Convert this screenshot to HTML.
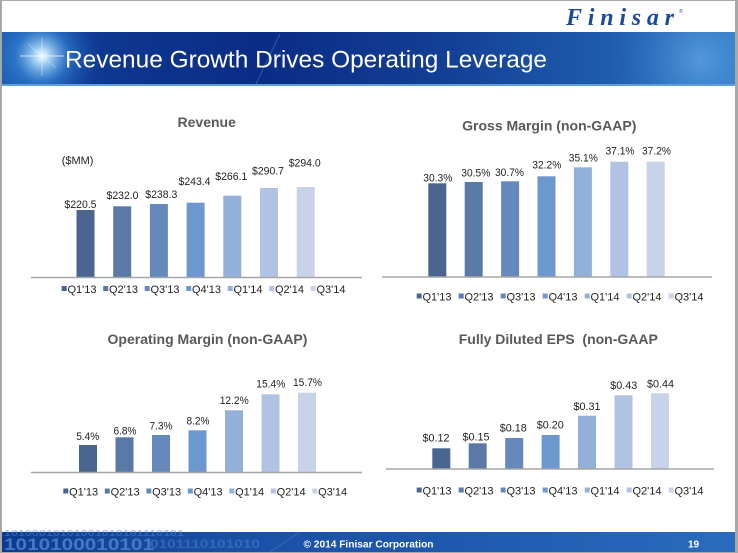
<!DOCTYPE html>
<html>
<head>
<meta charset="utf-8">
<style>
html,body{margin:0;padding:0;background:#fff;}
svg{display:block;}
text{font-family:"Liberation Sans",Arial,sans-serif;}
</style>
</head>
<body>
<svg width="738" height="553" viewBox="0 0 738 553" xmlns="http://www.w3.org/2000/svg">
<defs>
  <linearGradient id="ban" x1="0" y1="0" x2="1" y2="0">
    <stop offset="0" stop-color="#1d5cb0"/>
    <stop offset="0.1" stop-color="#0f3a93"/>
    <stop offset="0.35" stop-color="#0a2c84"/>
    <stop offset="0.6" stop-color="#123f94"/>
    <stop offset="0.85" stop-color="#215fb0"/>
    <stop offset="1" stop-color="#2f78c6"/>
  </linearGradient>
  <radialGradient id="flare" cx="42" cy="56" r="60" gradientUnits="userSpaceOnUse">
    <stop offset="0" stop-color="#ffffff" stop-opacity="1"/>
    <stop offset="0.12" stop-color="#bfe6ff" stop-opacity="0.9"/>
    <stop offset="0.45" stop-color="#3a8ee0" stop-opacity="0.55"/>
    <stop offset="1" stop-color="#1a5cb0" stop-opacity="0"/>
  </radialGradient>
  <radialGradient id="rglow" cx="700" cy="60" r="90" gradientUnits="userSpaceOnUse">
    <stop offset="0" stop-color="#6fb4ec" stop-opacity="0.6"/>
    <stop offset="1" stop-color="#2f78c6" stop-opacity="0"/>
  </radialGradient>
  <linearGradient id="foot" x1="0" y1="0" x2="1" y2="0">
    <stop offset="0" stop-color="#0d3a8e"/>
    <stop offset="0.3" stop-color="#1a4fa4"/>
    <stop offset="0.6" stop-color="#1e58ad"/>
    <stop offset="1" stop-color="#2a6cbc"/>
  </linearGradient>
</defs>

<!-- frame -->
<rect x="0" y="0" width="738" height="553" fill="#ffffff"/>
<rect x="0" y="0" width="738" height="1" fill="#a8a8a8"/>
<rect x="0" y="0" width="2" height="553" fill="#a8a8a8"/>
<rect x="735" y="0" width="3" height="553" fill="#a8a8a8"/>
<rect x="0" y="552" width="738" height="1" fill="#a8a8a8"/>

<!-- logo -->
<text x="566" y="25" font-family="Liberation Serif, serif" font-style="italic" font-weight="bold" font-size="24" fill="#1a4b9b" textLength="108" lengthAdjust="spacing" style="font-family:'Liberation Serif',serif">Finisar</text>
<text x="679" y="13" font-size="5" fill="#1a4b9b">®</text>

<!-- banner -->
<rect x="2" y="32" width="733" height="54" fill="url(#ban)"/>
<rect x="2" y="32" width="733" height="54" fill="url(#rglow)"/>
<rect x="2" y="32" width="140" height="54" fill="url(#flare)"/>
<line x1="20" y1="56" x2="64" y2="56" stroke="#e8f6ff" stroke-width="1" opacity="0.8"/>
<line x1="42" y1="38" x2="42" y2="76" stroke="#e8f6ff" stroke-width="0.8" opacity="0.6"/>
<line x1="28" y1="44" x2="56" y2="68" stroke="#e8f6ff" stroke-width="0.6" opacity="0.5"/>
<line x1="255" y1="86" x2="280" y2="34" stroke="#4f86d0" stroke-width="1" opacity="0.5"/>
<rect x="2" y="84" width="733" height="2" fill="#5d9ee0"/>
<text x="65" y="67.5" font-size="24" fill="#ffffff" textLength="482" lengthAdjust="spacingAndGlyphs">Revenue Growth Drives Operating Leverage</text>

<!-- ========== Revenue ========== -->
<text x="206.7" y="127" font-size="14" font-weight="bold" fill="#595959" text-anchor="middle">Revenue</text>
<text x="61.7" y="164" font-size="11" fill="#222">($MM)</text>
<g>
<rect x="76.5" y="210" width="18" height="67.5" fill="#4a6690"/>
<rect x="113.2" y="206.3" width="18" height="71.2" fill="#5a79a6"/>
<rect x="149.9" y="204" width="18" height="73.5" fill="#6588bd"/>
<rect x="186.6" y="202.7" width="18" height="74.8" fill="#6c97cf"/>
<rect x="223.3" y="195.7" width="18" height="81.8" fill="#93b0db"/>
<rect x="260" y="188" width="18" height="89.5" fill="#b1c3e2"/>
<rect x="296.7" y="187" width="18" height="90.5" fill="#c8d3ea"/>
</g>
<line x1="31" y1="277.5" x2="362" y2="277.5" stroke="#a6a6a6" stroke-width="1.5"/>
<g font-size="11" fill="#222" text-anchor="middle">
<text x="80.5" y="208" textLength="32" lengthAdjust="spacingAndGlyphs">$220.5</text>
<text x="122.5" y="199" textLength="32" lengthAdjust="spacingAndGlyphs">$232.0</text>
<text x="161.3" y="198" textLength="32" lengthAdjust="spacingAndGlyphs">$238.3</text>
<text x="194.5" y="185" textLength="32" lengthAdjust="spacingAndGlyphs">$243.4</text>
<text x="231.3" y="180" textLength="32" lengthAdjust="spacingAndGlyphs">$266.1</text>
<text x="268" y="174.3" textLength="32" lengthAdjust="spacingAndGlyphs">$290.7</text>
<text x="304.7" y="166.7" textLength="32" lengthAdjust="spacingAndGlyphs">$294.0</text>
</g>
<g font-size="11" fill="#222">
<rect x="61.7" y="286" width="5" height="5" fill="#4a6690"/><text x="67.5" y="293">Q1'13</text>
<rect x="103.2" y="286" width="5" height="5" fill="#5a79a6"/><text x="109" y="293">Q2'13</text>
<rect x="144.7" y="286" width="5" height="5" fill="#6588bd"/><text x="150.5" y="293">Q3'13</text>
<rect x="186.2" y="286" width="5" height="5" fill="#6c97cf"/><text x="192" y="293">Q4'13</text>
<rect x="227.7" y="286" width="5" height="5" fill="#93b0db"/><text x="233.5" y="293">Q1'14</text>
<rect x="269.2" y="286" width="5" height="5" fill="#b1c3e2"/><text x="275" y="293">Q2'14</text>
<rect x="310.7" y="286" width="5" height="5" fill="#c8d3ea"/><text x="316.5" y="293">Q3'14</text>
</g>

<!-- ========== Gross Margin ========== -->
<text x="549.3" y="130.5" font-size="14" font-weight="bold" fill="#595959" text-anchor="middle">Gross Margin (non-GAAP)</text>
<g>
<rect x="428.3" y="183.3" width="18" height="93.7" fill="#4a6690"/>
<rect x="464.7" y="182" width="18" height="95" fill="#5a79a6"/>
<rect x="501.1" y="181.3" width="18" height="95.7" fill="#6588bd"/>
<rect x="537.5" y="176.3" width="18" height="100.7" fill="#6c97cf"/>
<rect x="573.9" y="167.3" width="18" height="109.7" fill="#93b0db"/>
<rect x="610.3" y="161.7" width="18" height="115.3" fill="#b1c3e2"/>
<rect x="646.7" y="161.7" width="18" height="115.3" fill="#c8d3ea"/>
</g>
<line x1="382" y1="277" x2="712" y2="277" stroke="#a6a6a6" stroke-width="1.5"/>
<g font-size="11" fill="#222" text-anchor="middle">
<text x="437.8" y="181.7" textLength="29" lengthAdjust="spacingAndGlyphs">30.3%</text>
<text x="475.8" y="176.7" textLength="29" lengthAdjust="spacingAndGlyphs">30.5%</text>
<text x="509.5" y="176" textLength="29" lengthAdjust="spacingAndGlyphs">30.7%</text>
<text x="546.8" y="168.3" textLength="29" lengthAdjust="spacingAndGlyphs">32.2%</text>
<text x="583.3" y="161.7" textLength="29" lengthAdjust="spacingAndGlyphs">35.1%</text>
<text x="620" y="154.3" textLength="29" lengthAdjust="spacingAndGlyphs">37.1%</text>
<text x="656.5" y="154.3" textLength="29" lengthAdjust="spacingAndGlyphs">37.2%</text>
</g>
<g font-size="11" fill="#222">
<rect x="416.7" y="293.5" width="5" height="5" fill="#4a6690"/><text x="422.5" y="300.5">Q1'13</text>
<rect x="458.7" y="293.5" width="5" height="5" fill="#5a79a6"/><text x="464.5" y="300.5">Q2'13</text>
<rect x="500.7" y="293.5" width="5" height="5" fill="#6588bd"/><text x="506.5" y="300.5">Q3'13</text>
<rect x="542.7" y="293.5" width="5" height="5" fill="#6c97cf"/><text x="548.5" y="300.5">Q4'13</text>
<rect x="584.7" y="293.5" width="5" height="5" fill="#93b0db"/><text x="590.5" y="300.5">Q1'14</text>
<rect x="626.7" y="293.5" width="5" height="5" fill="#b1c3e2"/><text x="632.5" y="300.5">Q2'14</text>
<rect x="668.7" y="293.5" width="5" height="5" fill="#c8d3ea"/><text x="674.5" y="300.5">Q3'14</text>
</g>

<!-- ========== Operating Margin ========== -->
<text x="207.5" y="344" font-size="14" font-weight="bold" fill="#595959" text-anchor="middle">Operating Margin (non-GAAP)</text>
<g>
<rect x="79" y="445" width="18" height="27.5" fill="#4a6690"/>
<rect x="115.5" y="437.3" width="18" height="35.2" fill="#5a79a6"/>
<rect x="152" y="435" width="18" height="37.5" fill="#6588bd"/>
<rect x="188.5" y="430.3" width="18" height="42.2" fill="#6c97cf"/>
<rect x="225" y="410.3" width="18" height="62.2" fill="#93b0db"/>
<rect x="261.5" y="394.3" width="18" height="78.2" fill="#b1c3e2"/>
<rect x="298" y="392.7" width="18" height="79.8" fill="#c8d3ea"/>
</g>
<line x1="31" y1="472.5" x2="362" y2="472.5" stroke="#a6a6a6" stroke-width="1.5"/>
<g font-size="11" fill="#222" text-anchor="middle">
<text x="87.7" y="440" textLength="23" lengthAdjust="spacingAndGlyphs">5.4%</text>
<text x="125" y="434.3" textLength="23" lengthAdjust="spacingAndGlyphs">6.8%</text>
<text x="161" y="429.3" textLength="23" lengthAdjust="spacingAndGlyphs">7.3%</text>
<text x="198" y="424.3" textLength="23" lengthAdjust="spacingAndGlyphs">8.2%</text>
<text x="234.2" y="404" textLength="29" lengthAdjust="spacingAndGlyphs">12.2%</text>
<text x="270.8" y="387.7" textLength="29" lengthAdjust="spacingAndGlyphs">15.4%</text>
<text x="307.5" y="386" textLength="29" lengthAdjust="spacingAndGlyphs">15.7%</text>
</g>
<g font-size="11" fill="#222">
<rect x="63.3" y="488.5" width="5" height="5" fill="#4a6690"/><text x="69.1" y="495.5">Q1'13</text>
<rect x="104.8" y="488.5" width="5" height="5" fill="#5a79a6"/><text x="110.6" y="495.5">Q2'13</text>
<rect x="146.3" y="488.5" width="5" height="5" fill="#6588bd"/><text x="152.1" y="495.5">Q3'13</text>
<rect x="187.8" y="488.5" width="5" height="5" fill="#6c97cf"/><text x="193.6" y="495.5">Q4'13</text>
<rect x="229.3" y="488.5" width="5" height="5" fill="#93b0db"/><text x="235.1" y="495.5">Q1'14</text>
<rect x="270.8" y="488.5" width="5" height="5" fill="#b1c3e2"/><text x="276.6" y="495.5">Q2'14</text>
<rect x="312.3" y="488.5" width="5" height="5" fill="#c8d3ea"/><text x="318.1" y="495.5">Q3'14</text>
</g>

<!-- ========== EPS ========== -->
<text x="558.3" y="344" font-size="14" font-weight="bold" fill="#595959" text-anchor="middle" xml:space="preserve">Fully Diluted EPS  (non-GAAP</text>
<g>
<rect x="432.3" y="448.3" width="18" height="20.7" fill="#4a6690"/>
<rect x="468.7" y="443.3" width="18" height="25.7" fill="#5a79a6"/>
<rect x="505.2" y="438" width="18" height="31" fill="#6588bd"/>
<rect x="541.6" y="435" width="18" height="34" fill="#6c97cf"/>
<rect x="578" y="415.7" width="18" height="53.3" fill="#93b0db"/>
<rect x="614.5" y="395.3" width="18" height="73.7" fill="#b1c3e2"/>
<rect x="651" y="393.3" width="18" height="75.7" fill="#c8d3ea"/>
</g>
<line x1="386" y1="469" x2="714" y2="469" stroke="#a6a6a6" stroke-width="1.5"/>
<g font-size="11" fill="#222" text-anchor="middle">
<text x="436" y="441.7" textLength="27" lengthAdjust="spacingAndGlyphs">$0.12</text>
<text x="476" y="440.7" textLength="27" lengthAdjust="spacingAndGlyphs">$0.15</text>
<text x="513.3" y="431.7" textLength="27" lengthAdjust="spacingAndGlyphs">$0.18</text>
<text x="550.3" y="428.3" textLength="27" lengthAdjust="spacingAndGlyphs">$0.20</text>
<text x="587" y="410" textLength="27" lengthAdjust="spacingAndGlyphs">$0.31</text>
<text x="623.8" y="389" textLength="27" lengthAdjust="spacingAndGlyphs">$0.43</text>
<text x="660.5" y="387.3" textLength="27" lengthAdjust="spacingAndGlyphs">$0.44</text>
</g>
<g font-size="11" fill="#222">
<rect x="416.7" y="487.5" width="5" height="5" fill="#4a6690"/><text x="422.5" y="494.5">Q1'13</text>
<rect x="458.7" y="487.5" width="5" height="5" fill="#5a79a6"/><text x="464.5" y="494.5">Q2'13</text>
<rect x="500.7" y="487.5" width="5" height="5" fill="#6588bd"/><text x="506.5" y="494.5">Q3'13</text>
<rect x="542.7" y="487.5" width="5" height="5" fill="#6c97cf"/><text x="548.5" y="494.5">Q4'13</text>
<rect x="584.7" y="487.5" width="5" height="5" fill="#93b0db"/><text x="590.5" y="494.5">Q1'14</text>
<rect x="626.7" y="487.5" width="5" height="5" fill="#b1c3e2"/><text x="632.5" y="494.5">Q2'14</text>
<rect x="668.7" y="487.5" width="5" height="5" fill="#c8d3ea"/><text x="674.5" y="494.5">Q3'14</text>
</g>

<!-- footer -->
<rect x="2" y="532" width="733" height="20" fill="url(#foot)"/>
<g fill="#4d84cc" font-weight="bold" opacity="0.85">
<text x="4" y="550" font-size="17" textLength="150" lengthAdjust="spacingAndGlyphs">1010100010101</text>
<text x="150" y="548" font-size="12" textLength="110" lengthAdjust="spacingAndGlyphs" opacity="0.6">0101110101010</text>
<text x="4" y="536" font-size="8" textLength="180" lengthAdjust="spacingAndGlyphs" opacity="0.6">10100010101001010101110101</text>
</g>
<line x1="270" y1="552" x2="300" y2="532" stroke="#4f86d0" stroke-width="1" opacity="0.5"/>
<text x="368.5" y="547.5" font-size="10" font-weight="bold" fill="#ffffff" text-anchor="middle" textLength="130" lengthAdjust="spacingAndGlyphs">© 2014 Finisar Corporation</text>
<text x="693.5" y="547.5" font-size="10" font-weight="bold" fill="#ffffff" text-anchor="middle">19</text>
</svg>
</body>
</html>
